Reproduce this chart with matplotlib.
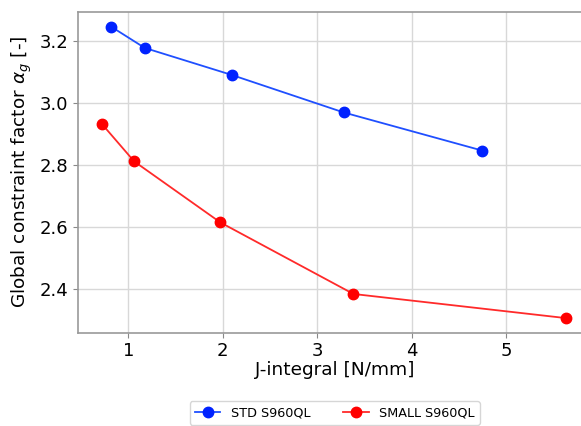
import matplotlib.pyplot as plt

# J-integral [N/mm] vs global constraint factor
std_j = [0.817, 1.175, 2.094, 3.278, 4.743]
std_a = [3.246, 3.177, 3.090, 2.969, 2.846]
small_j = [0.720, 1.062, 1.974, 3.383, 5.635]
small_a = [2.932, 2.811, 2.614, 2.383, 2.305]

fig = plt.figure(figsize=(5.81, 4.26), dpi=100)
# the right edge of the axes lies outside the picture, as in the source image
ax = fig.add_axes([78 / 581, 93.3 / 426, 522 / 581, 321 / 426])

ax.plot(std_j, std_a, "o-", color="#1f4fff", markerfacecolor="#0022ff",
        markeredgecolor="#0022ff", markersize=7.5, linewidth=1.3, label="STD S960QL")
ax.plot(small_j, small_a, "o-", color="#ff2a2a", markerfacecolor="#ff0000",
        markeredgecolor="#ff0000", markersize=7.5, linewidth=1.3, label="SMALL S960QL")

ax.set_xlim(0.468, 5.992)
ax.set_ylim(2.258, 3.294)
ax.set_xticks([1, 2, 3, 4, 5])
ax.set_yticks([2.4, 2.6, 2.8, 3.0, 3.2])
ax.tick_params(labelsize=13, color="#888888")
ax.set_xlabel("J-integral [N/mm]", fontsize=13.3)
ax.xaxis.set_label_coords(0.492, -0.088)
ax.set_ylabel(r"Global constraint factor $\alpha_g$ [-]", fontsize=13.3)
ax.grid(color="#d8d8d8", linewidth=1.0)
for s in ax.spines.values():
    s.set_color("#999999")
    s.set_linewidth(1.2)

fig.legend(loc="center", bbox_to_anchor=(334.7 / 581, 13 / 426), ncol=2,
           fontsize=9.2, frameon=True, edgecolor="#cccccc", fancybox=True,
           columnspacing=2.6)

fig.savefig("out.png", dpi=100)
